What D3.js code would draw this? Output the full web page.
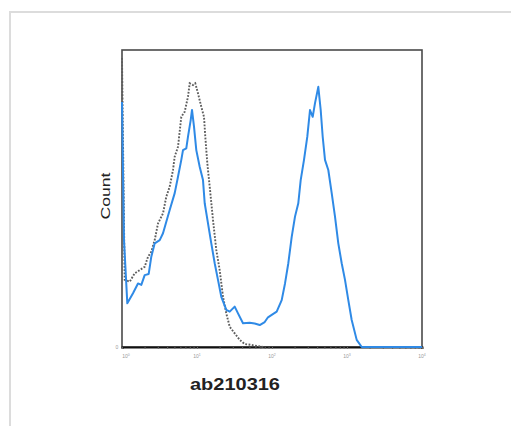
<!DOCTYPE html>
<html>
<head>
<meta charset="utf-8">
<script src="https://cdn.jsdelivr.net/npm/d3@7"></script>
<style>
  html, body { margin: 0; padding: 0; background: #fff; }
  svg { display: block; }
</style>
</head>
<body>
<div id="chart"></div>
<script>
var W = 511, H = 426;

// stained sample (blue) - fluorescence intensity and count
var blueFL = [1, 1.063, 1.177, 1.402, 1.634, 1.809, 2.007, 2.27, 2.459, 2.729, 3.183, 3.522,
  3.896, 4.325, 5.043, 5.58, 6.175, 6.506, 7.198, 7.586, 8.241, 8.577, 9.12, 9.787, 10.86,
  12.02, 12.67, 14.02, 15.51, 17.22, 19.05, 21.09, 24.59, 27.29, 31.83, 35.22, 41.06, 50.43,
  58.79, 68.55, 79.93, 88.44, 99.1, 115.5, 134.7, 149.1, 165, 183.1, 202.6, 224.2, 241.3,
  267.1, 295.6, 321.1, 348.9, 374.5, 414.4, 446, 474.2, 508.9, 563.3, 625.2, 691.8, 765.6,
  849.8, 940.4, 1041, 1155, 1347, 1570, 10000];
var blueCount = [82.5, 36, 14.7, 18.1, 21.4, 20.9, 24.2, 24.6, 30.4, 34.9, 36, 38.3,
  42.2, 46.1, 51.8, 57.3, 63, 66.3, 66.9, 70.8, 76.4, 79.8, 74.2, 66.3, 60.7,
  56.2, 48.4, 41.6, 34.9, 28.2, 22.6, 16.9, 12.5, 11.9, 13.6, 11.3, 8, 8.2,
  7.9, 7.4, 8.4, 10, 10.8, 11.9, 15.8, 21.4, 28.2, 37.1, 43.9, 48.4, 56.2,
  63, 70.8, 79.8, 77.5, 82.1, 87.6, 79.8, 70.8, 63, 59.6, 51.8, 43.9, 34.9,
  28.2, 22.6, 15.8, 9.1, 2.4, 0, 0];

// isotype control (grey dotted)
var greyFL = [1, 1.086, 1.267, 1.477, 1.722, 2.007, 2.222, 2.459, 2.729, 3.02, 3.522, 3.896,
  4.325, 4.786, 5.043, 5.58, 6.175, 6.855, 7.586, 7.992, 8.844, 9.491, 10.31, 11.41, 12.4,
  12.9, 13.72, 14.77, 16.34, 18.08, 20.07, 22.22, 24.59, 27.29, 31.83, 37.1, 43.25, 52.97,
  71.98, 78.2];
var greyCount = [97.3, 22.6, 22, 24.8, 25.9, 27, 30.4, 32.1, 36, 41.6, 45, 50.6,
  54, 59.6, 64.1, 67.4, 77.5, 79.2, 84.3, 88.8, 88.2, 88.8, 85.4, 80.9, 77.5,
  70.8, 61.9, 54, 42.8, 32.7, 25.9, 16.9, 11.3, 6.8, 4.6, 2.4, 1, 0.7,
  0.1, 0];

var xTicks = [1, 10, 100, 1000, 10000];
var xTickExp = ["0", "1", "2", "3", "4"];
var xTitle = "ab210316";
var yTitle = "Count";

var svg = d3.select("#chart").append("svg")
  .attr("width", W)
  .attr("height", H);

svg.append("rect").attr("width", W).attr("height", H).attr("fill", "#fff");

// light page border
svg.append("path")
  .attr("d", "M10," + H + "V12H" + W)
  .attr("fill", "none")
  .attr("stroke", "#dcdcdc")
  .attr("stroke-width", 2);

var x = d3.scaleLog().domain([1, 10000]).range([122, 422]);
var y = d3.scaleLinear().domain([0, 100]).range([347, 50]);

// plot frame
svg.append("rect")
  .attr("x", x.range()[0]).attr("y", y.range()[1])
  .attr("width", x.range()[1] - x.range()[0])
  .attr("height", y.range()[0] - y.range()[1])
  .attr("fill", "none")
  .attr("stroke", "#4a4a4a")
  .attr("stroke-width", 1.6);

// bottom axis
var gx = svg.append("g").attr("transform", "translate(0," + y(0) + ")");
gx.call(d3.axisBottom(x).tickValues(x.ticks()).tickSize(2).tickFormat(function() { return ""; }));
gx.select(".domain").attr("stroke", "#111").attr("stroke-width", 2);
gx.selectAll(".tick line").attr("stroke", "#666");

xTicks.forEach(function(t, i) {
  var lab = svg.append("text")
    .attr("x", x(t) + (i === 0 ? 4 : 0))
    .attr("y", 358)
    .attr("text-anchor", "middle")
    .attr("font-family", "Arial, 'Liberation Sans', sans-serif")
    .attr("font-size", 5)
    .attr("fill", "#9a9a9a")
    .text("10");
  lab.append("tspan").attr("dy", -2).attr("font-size", 3.5).text(xTickExp[i]);
});

svg.append("text")
  .attr("x", 117).attr("y", 349)
  .attr("text-anchor", "middle")
  .attr("font-family", "Arial, 'Liberation Sans', sans-serif")
  .attr("font-size", 5)
  .attr("fill", "#9a9a9a")
  .text("0");

var lineFn = d3.line()
  .x(function(d) { return x(d[0]); })
  .y(function(d) { return y(d[1]); });

svg.append("path")
  .datum(d3.zip(greyFL, greyCount))
  .attr("d", lineFn)
  .attr("fill", "none")
  .attr("stroke", "#5e5e5e")
  .attr("stroke-width", 1.9)
  .attr("stroke-dasharray", "1.8,1.5");

svg.append("path")
  .datum(d3.zip(blueFL, blueCount))
  .attr("d", lineFn)
  .attr("fill", "none")
  .attr("stroke", "#2f8ae6")
  .attr("stroke-width", 2)
  .attr("stroke-linejoin", "round");

// axis titles
svg.append("text")
  .attr("x", 235).attr("y", 390)
  .attr("text-anchor", "middle")
  .attr("font-family", "Arial, 'Liberation Sans', sans-serif")
  .attr("font-weight", "bold")
  .attr("font-size", 17)
  .attr("textLength", 90)
  .attr("lengthAdjust", "spacingAndGlyphs")
  .attr("fill", "#222")
  .text(xTitle);

svg.append("text")
  .attr("transform", "translate(110,196) rotate(-90)")
  .attr("text-anchor", "middle")
  .attr("font-family", "Arial, 'Liberation Sans', sans-serif")
  .attr("font-size", 12)
  .attr("textLength", 47)
  .attr("lengthAdjust", "spacingAndGlyphs")
  .attr("fill", "#222")
  .text(yTitle);
</script>
</body>
</html>
